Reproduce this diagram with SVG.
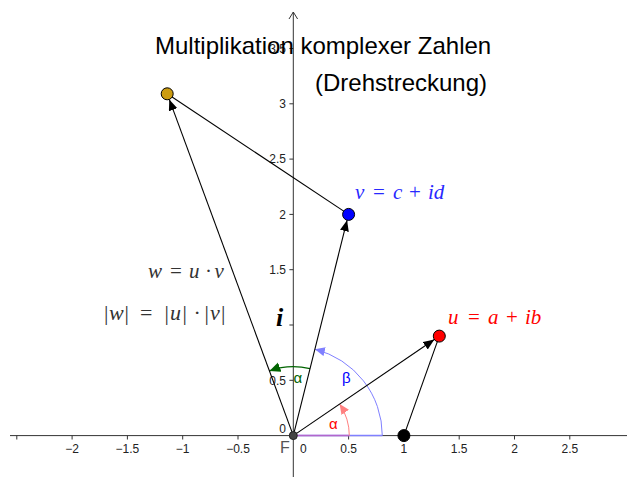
<svg xmlns="http://www.w3.org/2000/svg" width="627" height="477" viewBox="0 0 627 477">
<style>
.ax{stroke:#333;stroke-width:1;fill:none}
.tk{stroke:#333;stroke-width:1}
.lbl{font-family:"Liberation Sans",Arial,sans-serif;font-size:12px;fill:#222}
.title{font-family:"Liberation Sans",Arial,sans-serif;font-size:24px;fill:#000}
.math{font-family:"Liberation Serif","Times New Roman",serif}
.it{font-style:italic}
.vec{stroke:#000;stroke-width:1.1;fill:none}
.pt{stroke:#000;stroke-width:1}
.ang{font-family:"Liberation Sans",Arial,sans-serif;font-size:15px}
</style>
<defs>
<marker id="ah" markerWidth="12" markerHeight="10" refX="11" refY="4.5" orient="auto" markerUnits="userSpaceOnUse">
<path d="M0,0 L11,4.5 L0,9 Z" fill="#000"/>
</marker>
<marker id="ahR" markerWidth="12" markerHeight="10" refX="10" refY="4.5" orient="auto" markerUnits="userSpaceOnUse">
<path d="M0,0 L10,4.5 L0,9 Z" fill="#ff8080"/>
</marker>
<marker id="ahB" markerWidth="12" markerHeight="10" refX="10" refY="4.5" orient="auto" markerUnits="userSpaceOnUse">
<path d="M0,0 L10,4.5 L0,9 Z" fill="#8080ff"/>
</marker>
<marker id="ahG" markerWidth="13" markerHeight="11" refX="11" refY="5" orient="auto" markerUnits="userSpaceOnUse">
<path d="M0,0 L11,5 L0,10 Z" fill="#006400"/>
</marker>
</defs>
<rect width="627" height="477" fill="#fff"/>

<g id="axes">
<line class="ax" x1="10" y1="435.6" x2="627" y2="435.6"/>
<line class="ax" x1="293.3" y1="12" x2="293.3" y2="477"/>
<polyline class="ax" points="289,19 293.3,12 297.6,19"/>
<g class="tk">
<line x1="16.8" y1="435.6" x2="16.8" y2="439.5"/>
<line x1="72.1" y1="435.6" x2="72.1" y2="439.5"/>
<line x1="127.4" y1="435.6" x2="127.4" y2="439.5"/>
<line x1="182.7" y1="435.6" x2="182.7" y2="439.5"/>
<line x1="238" y1="435.6" x2="238" y2="439.5"/>
<line x1="348.6" y1="435.6" x2="348.6" y2="439.5"/>
<line x1="403.9" y1="435.6" x2="403.9" y2="439.5"/>
<line x1="459.2" y1="435.6" x2="459.2" y2="439.5"/>
<line x1="514.5" y1="435.6" x2="514.5" y2="439.5"/>
<line x1="569.8" y1="435.6" x2="569.8" y2="439.5"/>
<line x1="289.4" y1="380.3" x2="293.3" y2="380.3"/>
<line x1="289.4" y1="325" x2="293.3" y2="325"/>
<line x1="289.4" y1="269.7" x2="293.3" y2="269.7"/>
<line x1="289.4" y1="214.4" x2="293.3" y2="214.4"/>
<line x1="289.4" y1="159.1" x2="293.3" y2="159.1"/>
<line x1="289.4" y1="103.8" x2="293.3" y2="103.8"/>
<line x1="289.4" y1="48.5" x2="293.3" y2="48.5"/>
</g>
<g class="lbl" text-anchor="middle">
<text x="72.1" y="453">−2</text>
<text x="127.4" y="453">−1.5</text>
<text x="182.7" y="453">−1</text>
<text x="238" y="453">−0.5</text>
<text x="348.6" y="453">0.5</text>
<text x="403.9" y="453">1</text>
<text x="459.2" y="453">1.5</text>
<text x="514.5" y="453">2</text>
<text x="569.8" y="453">2.5</text>
</g>
<text class="lbl" x="300" y="453">0</text>
<g class="lbl" text-anchor="end">
<text x="286" y="433">0</text>
<text x="286" y="384.6">0.5</text>
<text x="286" y="274">1.5</text>
<text x="286" y="218.7">2</text>
<text x="286" y="163.4">2.5</text>
<text x="286" y="108.1">3</text>
</g>
</g>

<g id="angles">
<line x1="293.3" y1="435.6" x2="382.3" y2="435.6" stroke="#8080ff" stroke-width="1.5"/>
<line x1="293.3" y1="435.6" x2="349.3" y2="435.6" stroke="#c060c0" stroke-width="1.5" opacity="0.8"/>
<path d="M349.3,435.6 A56,56 0 0 0 339.6,404.1" fill="none" stroke="#ff8080" stroke-width="1" marker-end="url(#ahR)"/>
<path d="M382.3,435.6 A89,89 0 0 0 314.9,349.3" fill="none" stroke="#8080ff" stroke-width="1" marker-end="url(#ahB)"/>
<path d="M310,368.7 A69,69 0 0 0 269.4,370.9" fill="none" stroke="#006400" stroke-width="1.2" marker-end="url(#ahG)"/>
<text class="ang" x="329" y="429" fill="#ff0000">α</text>
<text class="ang" x="342" y="383" fill="#0000ff">β</text>
<text class="ang" x="293.5" y="383" fill="#006400">α</text>
</g>

<g id="connectors">
<line class="vec" x1="293.3" y1="435.6" x2="434.3" y2="339.5" marker-end="url(#ah)"/>
<line class="vec" x1="293.3" y1="435.6" x2="347.1" y2="220.2" marker-end="url(#ah)"/>
<line class="vec" x1="293.3" y1="435.6" x2="169.3" y2="99.4" marker-end="url(#ah)"/>
<line class="vec" x1="403.9" y1="435.6" x2="439.3" y2="336.1"/>
<line class="vec" x1="348.6" y1="214.4" x2="167.2" y2="93.8"/>
</g>

<g id="node-origin">
<circle cx="293.3" cy="435.6" r="4" fill="#444" stroke="#222" stroke-width="1"/>
<text x="280" y="453" font-family="Liberation Sans, Arial, sans-serif" font-size="16" fill="#555">F</text>
</g>
<g id="node-one">
<circle class="pt" cx="403.9" cy="435.6" r="6" fill="#000"/>
</g>
<g id="node-u">
<circle class="pt" cx="439.3" cy="336.1" r="6" fill="#ff0000"/>
<text class="math" y="323.5" font-size="21" fill="#ff0000"><tspan class="it" x="448">u</tspan><tspan x="468">=</tspan><tspan class="it" x="488">a</tspan><tspan x="506">+</tspan><tspan class="it" x="525">ib</tspan></text>
</g>
<g id="node-v">
<circle class="pt" cx="348.6" cy="214.4" r="6" fill="#0000ff"/>
<text class="math" y="199" font-size="21" fill="#2828ff"><tspan class="it" x="355">v</tspan><tspan x="373">=</tspan><tspan class="it" x="393">c</tspan><tspan x="409">+</tspan><tspan class="it" x="428">id</tspan></text>
</g>
<g id="node-w">
<circle class="pt" cx="167.2" cy="93.8" r="6" fill="#cc9c11"/>
</g>

<g id="formula">
<text class="math" y="278" font-size="21" fill="#333"><tspan class="it" x="148">w</tspan><tspan x="170">=</tspan><tspan class="it" x="189">u</tspan><tspan x="205">·</tspan><tspan class="it" x="214.5">v</tspan></text>
<text class="math" y="320" font-size="22" fill="#333"><tspan x="104">|</tspan><tspan class="it" x="109">w</tspan><tspan x="124.5">|</tspan><tspan x="140">=</tspan><tspan x="164.5">|</tspan><tspan class="it" x="170">u</tspan><tspan x="182.5">|</tspan><tspan x="193.5">·</tspan><tspan x="204.5">|</tspan><tspan class="it" x="210">v</tspan><tspan x="221">|</tspan></text>
<text x="276" y="326" font-family="Liberation Serif, Times New Roman, serif" font-size="26" font-weight="bold" font-style="italic" fill="#000">i</text>
</g>

<g id="title">
<text class="lbl" x="286" y="52.8" text-anchor="end">3.5</text>
<text class="title" x="155" y="54">Multiplikation komplexer Zahlen</text>
<text class="title" x="315" y="91">(Drehstreckung)</text>
</g>
</svg>
